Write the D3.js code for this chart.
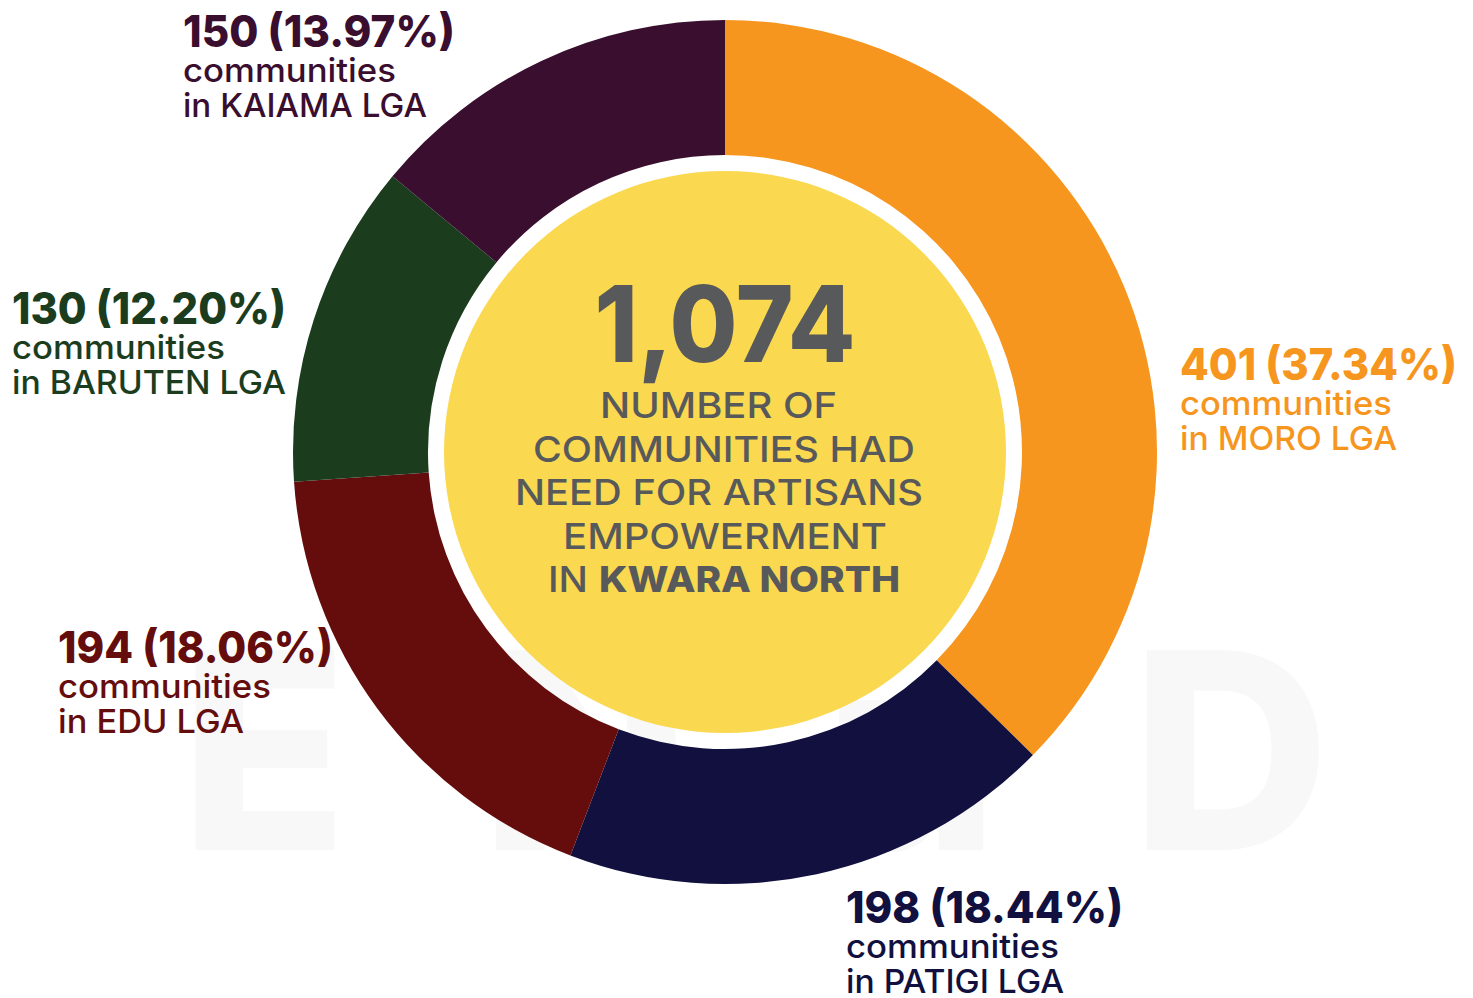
<!DOCTYPE html>
<html>
<head>
<meta charset="utf-8">
<script src="https://cdn.jsdelivr.net/npm/d3@7"></script>
<style>
  html, body { margin: 0; padding: 0; background: #ffffff; }
  svg { display: block; }
  text { font-family: Inter, "Noto Sans", "Liberation Sans", sans-serif; }
</style>
</head>
<body>
<svg id="chart" width="1473" height="998"></svg>
<script>
// Communities in Kwara North needing artisans empowerment, by LGA
const lgas     = ["MORO", "PATIGI", "EDU", "BARUTEN", "KAIAMA"];
const counts   = [401, 198, 194, 130, 150];
const percents = ["37.34%", "18.44%", "18.06%", "12.20%", "13.97%"];
const colors   = ["#F6961E", "#11103F", "#650D0D", "#1B3D1E", "#3A0E2E"];
const total    = 1074;
const centreLines = ["NUMBER OF", "COMMUNITIES HAD", "NEED FOR ARTISANS", "EMPOWERMENT"];

// Label layout (x of the left edge, baseline of first line, widths of the three lines)
const labelLayout = {
  MORO:    { x: 1180, y: 380, w: [277, 212, 217] },
  PATIGI:  { x: 846,  y: 923, w: [277, 213, 218] },
  EDU:     { x: 58,   y: 663, w: [275, 213, 186] },
  BARUTEN: { x: 12,   y: 324, w: [274, 213, 274] },
  KAIAMA:  { x: 183,  y: 47,  w: [272, 213, 244] }
};
// Centre caption layout: left edge and width of each line
const centreLayout = [[600, 237], [533, 382], [515, 408], [563, 324]];

const svg = d3.select("#chart");
const cx = 725, cy = 452;
const outerR = 432, innerR = 297, discR = 281;

// faint background watermark
svg.append("text")
  .attr("x", 180).attr("y", 850)
  .attr("font-size", 275).attr("font-weight", 800)
  .attr("fill", "#f8f8f8")
  .attr("textLength", 1150).attr("lengthAdjust", "spacing")
  .text("ENuD");

const g = svg.append("g").attr("transform", `translate(${cx},${cy})`);

const pie = d3.pie().sort(null).value(d => d.count).startAngle(0).endAngle(2 * Math.PI);
const arc = d3.arc().innerRadius(innerR).outerRadius(outerR);

const rows = lgas.map((name, i) => ({ name, count: counts[i], pct: percents[i], color: colors[i] }));

g.selectAll("path.slice")
  .data(pie(rows))
  .join("path")
  .attr("class", "slice")
  .attr("d", arc)
  .attr("fill", d => d.data.color);

// yellow centre disc
g.append("circle").attr("r", discR).attr("fill", "#FAD84F");

// total figure
svg.append("text")
  .attr("x", cx).attr("y", 362)
  .attr("text-anchor", "middle")
  .attr("font-size", 106).attr("font-weight", 800)
  .attr("fill", "#58595B")
  .attr("textLength", 261).attr("lengthAdjust", "spacingAndGlyphs")
  .text(d3.format(",")(total));

centreLines.forEach((line, i) => {
  svg.append("text")
    .attr("x", centreLayout[i][0]).attr("y", 418 + i * 43.5)
    .attr("font-size", 36).attr("font-weight", 500)
    .attr("fill", "#58595B")
    .attr("textLength", centreLayout[i][1]).attr("lengthAdjust", "spacingAndGlyphs")
    .text(line);
});
svg.append("text")
  .attr("x", 548).attr("y", 418 + 4 * 43.5)
  .attr("font-size", 36).attr("font-weight", 500)
  .attr("fill", "#58595B")
  .attr("textLength", 40).attr("lengthAdjust", "spacingAndGlyphs")
  .text("IN");
svg.append("text")
  .attr("x", 599).attr("y", 418 + 4 * 43.5)
  .attr("font-size", 36).attr("font-weight", 800)
  .attr("fill", "#58595B")
  .attr("textLength", 301).attr("lengthAdjust", "spacingAndGlyphs")
  .text("KWARA NORTH");

// slice labels
rows.forEach(r => {
  const L = labelLayout[r.name];
  const t = svg.append("g").attr("fill", r.color);
  t.append("text")
    .attr("x", L.x).attr("y", L.y)
    .attr("font-size", 44).attr("font-weight", 800)
    .attr("textLength", L.w[0]).attr("lengthAdjust", "spacingAndGlyphs")
    .text(`${r.count} (${r.pct})`);
  t.append("text")
    .attr("x", L.x).attr("y", L.y + 35)
    .attr("font-size", 33).attr("font-weight", 500)
    .attr("textLength", L.w[1]).attr("lengthAdjust", "spacingAndGlyphs")
    .text("communities");
  t.append("text")
    .attr("x", L.x).attr("y", L.y + 70)
    .attr("font-size", 33).attr("font-weight", 500)
    .attr("textLength", L.w[2]).attr("lengthAdjust", "spacingAndGlyphs")
    .text(`in ${r.name} LGA`);
});
</script>
</body>
</html>
